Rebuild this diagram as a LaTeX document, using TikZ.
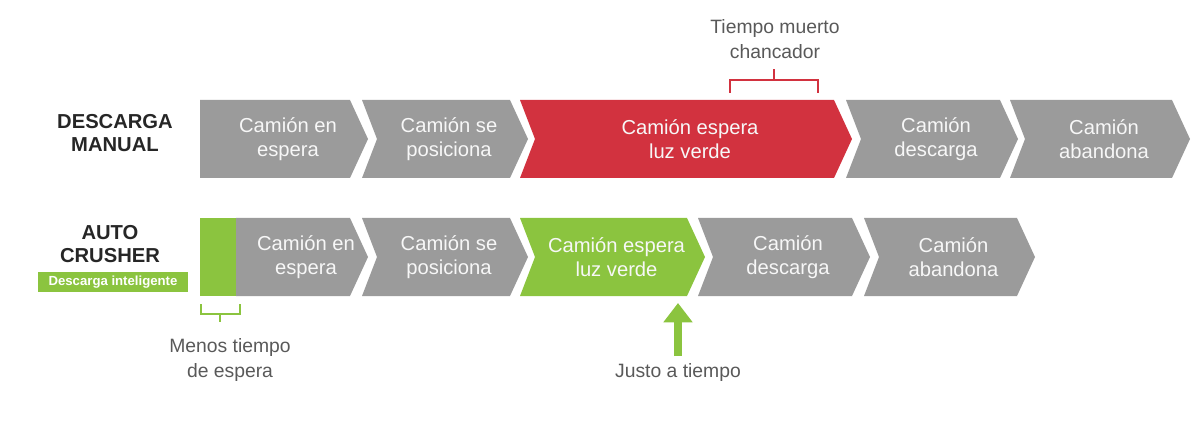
\documentclass[tikz,border=0pt]{standalone}
\usepackage{fontspec}
\setmainfont{Liberation Sans}
\usetikzlibrary{arrows.meta}
\definecolor{gris}{HTML}{9B9B9B}
\definecolor{rojo}{HTML}{D2323F}
\definecolor{verde}{HTML}{8BC43F}
% etapa: nombre, x inicio, x fin (punta), y arriba, color, texto, muesca (1/0)
\newcommand{\etapa}[7]{%
  \ifnum#7=1
    \fill[#5] (#2,#4) -- (#3-18,#4) -- (#3,#4+39) -- (#3-18,#4+78) -- (#2,#4+78) -- (#2+15,#4+39) -- cycle;
  \else
    \fill[#5] (#2,#4) -- (#3-18,#4) -- (#3,#4+39) -- (#3-18,#4+78) -- (#2,#4+78) -- cycle;
  \fi
  \node[etapa] (#1) at ({(#2+#3)/2+4},#4+39) {#6};}
\begin{document}
\begin{tikzpicture}[
    x=0.02cm, y=-0.02cm,
    etapa/.style={text=white!94!gray, align=center, font=\fontsize{11.5}{14}\selectfont},
    titulo/.style={align=center, font=\bfseries\fontsize{11.5}{13}\selectfont, text=black!85},
    nota/.style={align=center, font=\fontsize{11}{14}\selectfont, text=black!65},
    llave/.style={line width=1.2pt}
  ]
    \useasboundingbox (0,0) rectangle (1200,432);

    % Descarga manual
    \node[titulo] (manual) at (115,133) {DESCARGA\\MANUAL};
    \etapa{m1}{200}{368}{100}{gris}{Camión en\\espera}{0}
    \etapa{m2}{362}{528}{100}{gris}{Camión se\\posiciona}{1}
    \etapa{m3}{520}{852}{100}{rojo}{Camión espera\\luz verde}{1}
    \etapa{m4}{846}{1018}{100}{gris}{Camión\\descarga}{1}
    \etapa{m5}{1010}{1190}{100}{gris}{Camión\\abandona}{1}

    % Auto crusher
    \node[titulo] (auto) at (110,244) {AUTO\\CRUSHER};
    \node[fill=verde, text=white, font=\bfseries\fontsize{7.5}{9}\selectfont,
      minimum width=150*0.02cm, minimum height=20*0.02cm, inner sep=0pt] (inteligente) at (113,282) {Descarga inteligente};
    \fill[verde] (200,218) rectangle (236,296);
    \etapa{a1}{236}{368}{218}{gris}{Camión en\\espera}{0}
    \etapa{a2}{362}{528}{218}{gris}{Camión se\\posiciona}{1}
    \etapa{a3}{520}{705}{218}{verde}{Camión espera\\luz verde}{1}
    \etapa{a4}{698}{870}{218}{gris}{Camión\\descarga}{1}
    \etapa{a5}{864}{1035}{218}{gris}{Camión\\abandona}{1}

    % Tiempo muerto
    \node[nota] (muerto) at (775,39) {Tiempo muerto\\chancador};
    \draw[llave, rojo] (730,93) -- (730,80) -- (818,80) -- (818,93);
    \draw[llave, rojo] (774,80) -- (774,69);

    % Menos tiempo de espera
    \draw[llave, verde] (201,304) -- (201,314) -- (240,314) -- (240,304);
    \draw[llave, verde] (220,314) -- (220,322);
    \node[nota] (menos) at (230,360) {Menos tiempo\\de espera};

    % Justo a tiempo
    \node[nota] (justo) at (678,373) {Justo a tiempo};
    \coordinate (flecha) at (678,303);
    \draw[verde, line width=5pt, -{Triangle[width=16pt,length=11pt]}] (678,356) -- (flecha);
  \end{tikzpicture}
\end{document}
